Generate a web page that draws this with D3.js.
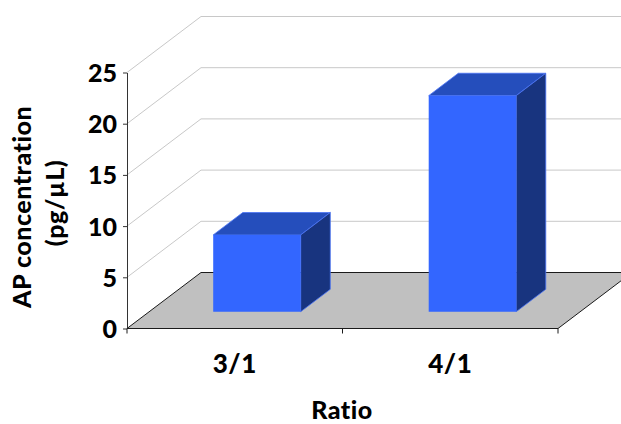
<!DOCTYPE html>
<html>
<head>
<meta charset="utf-8">
<style>
html, body { margin: 0; padding: 0; background: #fff; }
svg { display: block; }
text { font-family: Lato, "Open Sans", sans-serif; font-weight: 900; fill: #000; }
</style>
<script src="https://cdn.jsdelivr.net/npm/d3@7"></script>
</head>
<body>
<svg id="chart" width="621" height="424"></svg>
<script>
const ratios = ["3/1", "4/1"];
const concentrations = [7.5, 21.1];
const yTickValues = [0, 5, 10, 15, 20, 25];
const xTitle = "Ratio";
const yTitleLines = ["AP concentration", "(pg/µL)"];

const width = 621, height = 424;
const svg = d3.select("#chart");

// Front plane of the 3D box, plus the shift from front to back wall.
const y = d3.scaleLinear().domain([0, 25]).range([328.5, 72.5]);
const x = d3.scaleBand().domain(ratios).range([127, 558]).paddingInner(0.594).paddingOuter(0.297);
const depthX = 74, depthY = -56;
const barFront = 0.3, barBack = 0.7;   // bar's extent through the depth of the box

const project = (px, py, d) => [px + depthX * d, py + depthY * d];
const poly = pts => pts.map(p => p.join(",")).join(" ");

svg.append("defs").append("clipPath").attr("id", "frame")
  .append("rect").attr("width", width).attr("height", height);
const plot = svg.append("g").attr("clip-path", "url(#frame)");

// Floor of the box
const [xMin, xMax] = x.range();
plot.append("polygon")
  .attr("points", poly([project(xMin, y(0), 0), project(xMin, y(0), 1), project(xMax, y(0), 1), project(xMax, y(0), 0)]))
  .attr("fill", "#c0c0c0");

// Gridlines run up the side wall and along the back wall
plot.selectAll("polyline.grid").data(yTickValues.slice(1)).join("polyline")
  .attr("class", "grid")
  .attr("points", d => poly([project(xMin, y(d), 0), project(xMin, y(d), 1), project(xMax, y(d), 1)]))
  .attr("fill", "none").attr("stroke", "#c8c8c8").attr("stroke-width", 1);

// Floor outline
plot.append("polyline")
  .attr("points", poly([project(xMin, y(0), 0), project(xMin, y(0), 1), project(xMax, y(0), 1), project(xMax, y(0), 0), project(xMin, y(0), 0)]))
  .attr("fill", "none").attr("stroke", "#1a1a1a").attr("stroke-width", 1);

// Bars: top, side, then front face
const bars = plot.selectAll("g.bar").data(ratios.map((r, i) => ({ r, v: concentrations[i] }))).join("g").attr("class", "bar");
const corners = d => {
  const l = x(d.r), r = l + x.bandwidth(), t = y(d.v), b = y(0);
  return { l, r, t, b };
};
const edge = "#4a74f5";
bars.append("polygon")
  .attr("points", d => { const c = corners(d); return poly([project(c.l, c.t, barFront), project(c.l, c.t, barBack), project(c.r, c.t, barBack), project(c.r, c.t, barFront)]); })
  .attr("fill", "#254ebc").attr("stroke", edge).attr("stroke-width", 0.8).attr("stroke-linejoin", "round");
bars.append("polygon")
  .attr("points", d => { const c = corners(d); return poly([project(c.r, c.t, barFront), project(c.r, c.t, barBack), project(c.r, c.b, barBack), project(c.r, c.b, barFront)]); })
  .attr("fill", "#18347f").attr("stroke", edge).attr("stroke-width", 0.8).attr("stroke-linejoin", "round");
bars.append("polygon")
  .attr("points", d => { const c = corners(d); return poly([project(c.l, c.t, barFront), project(c.r, c.t, barFront), project(c.r, c.b, barFront), project(c.l, c.b, barFront)]); })
  .attr("fill", "#3366ff");

// Value axis
const yAxis = svg.append("g").attr("transform", `translate(${xMin},0)`)
  .call(d3.axisLeft(y).tickValues(yTickValues).tickSize(4).tickPadding(6).tickSizeOuter(0));
yAxis.select(".domain").attr("stroke", "#333");
yAxis.selectAll("line").attr("stroke", "#333");
yAxis.selectAll("text").style("font-size", "25px").style("font-family", "Lato").style("font-weight", 900)
  .attr("dy", "0.36em").attr("fill", "#000");

// Category axis, ticks between the categories
const xAxisLine = svg.append("g");
xAxisLine.append("line").attr("x1", xMin).attr("x2", xMax).attr("y1", y(0)).attr("y2", y(0)).attr("stroke", "#1a1a1a").attr("stroke-width", 1.2);
const boundaries = [xMin, (xMin + xMax) / 2, xMax];
xAxisLine.selectAll("line.tick").data(boundaries).join("line").attr("class", "tick")
  .attr("x1", d => d).attr("x2", d => d).attr("y1", y(0)).attr("y2", y(0) + 5).attr("stroke", "#1a1a1a");
svg.selectAll("text.cat").data(ratios).join("text").attr("class", "cat")
  .attr("x", d => x(d) + x.bandwidth() / 2)
  .attr("y", 373).attr("text-anchor", "middle").style("font-size", "26px").style("letter-spacing", "0.5px").text(d => d);

// Axis titles
svg.append("text").attr("x", 342).attr("y", 419).attr("text-anchor", "middle").style("font-size", "25px").style("letter-spacing", "0.5px").text(xTitle);
const yTitle = svg.append("text").attr("transform", "translate(31,207) rotate(-90)").attr("text-anchor", "middle").style("font-size", "25px").style("letter-spacing", "0.5px");
yTitleLines.forEach((t, i) => yTitle.append("tspan").attr("x", i ? 4 : 0).attr("dy", i ? 33 : 0).text(t));
</script>
</body>
</html>
